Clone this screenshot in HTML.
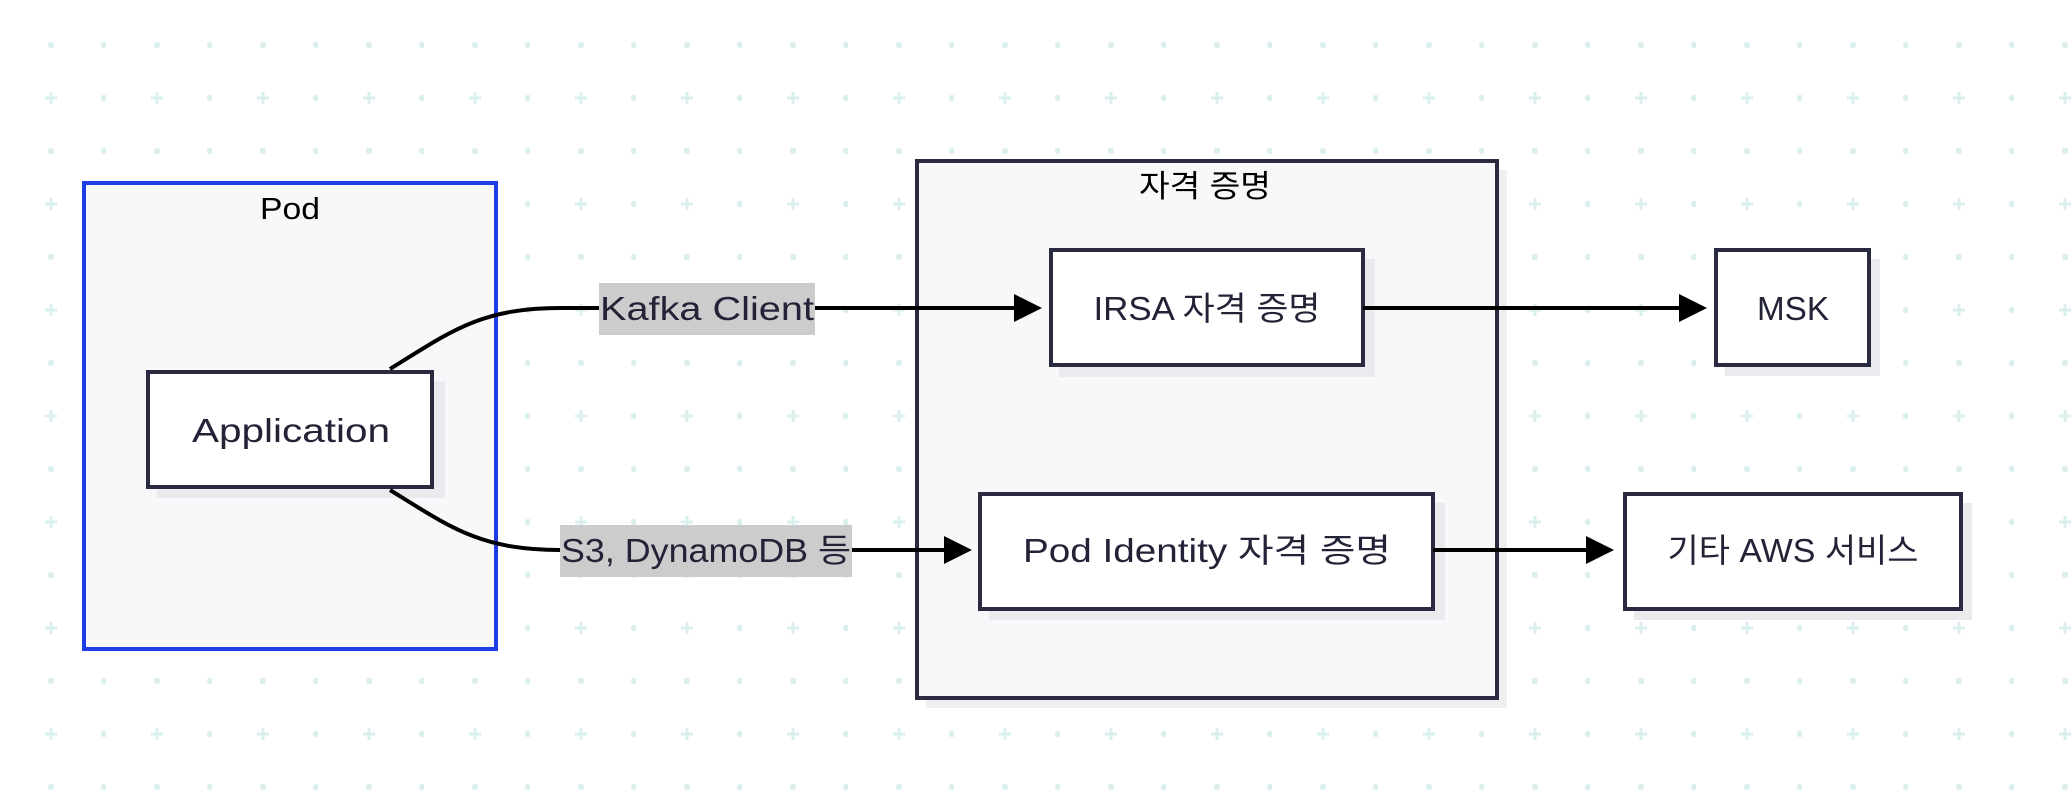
<!DOCTYPE html>
<html><head><meta charset="utf-8"><style>
html,body{margin:0;padding:0;background:#fff;}
svg{display:block;}
text{font-family:"Liberation Sans","Noto Sans CJK KR",sans-serif;fill:#232338;}
</style></head><body>
<svg width="2072" height="806" viewBox="0 0 2072 806" xmlns="http://www.w3.org/2000/svg">
<defs>
<pattern id="g" x="0" y="0" width="106" height="106" patternUnits="userSpaceOnUse">
<circle cx="51" cy="45" r="3.2" fill="#dcefef"/>
<circle cx="104" cy="45" r="3.2" fill="#dcefef"/>
<circle cx="104" cy="98" r="3.2" fill="#dcefef"/>
<rect x="45" y="96.5" width="12" height="3" fill="#dcefef"/>
<rect x="49.5" y="92" width="3" height="12" fill="#dcefef"/>
</pattern>
</defs>
<rect width="2072" height="806" fill="url(#g)"/>

<!-- Pod -->
<rect x="84" y="183" width="412" height="466" fill="#f8f8fa" stroke="#1e3de6" stroke-width="4"/>
<text x="290" y="219" font-size="31" text-anchor="middle" textLength="60" lengthAdjust="spacingAndGlyphs" style="fill:#000">Pod</text>

<!-- Credentials -->
<rect x="926" y="170" width="581" height="538" fill="#efeff2"/>
<rect x="917" y="161" width="580" height="537" fill="#f8f8fa" stroke="#2a2a40" stroke-width="4"/>
<text x="1205" y="197" font-size="31" text-anchor="middle" textLength="132" lengthAdjust="spacingAndGlyphs" style="fill:#000">자격 증명</text>

<!-- Application -->
<rect x="157" y="381" width="288" height="117" fill="#ebebef"/>
<rect x="148" y="372" width="284" height="115" fill="#fff" stroke="#2a2a40" stroke-width="4"/>
<text x="291" y="442" font-size="33" text-anchor="middle" textLength="198" lengthAdjust="spacingAndGlyphs">Application</text>

<!-- IRSA -->
<rect x="1059" y="259" width="316" height="118" fill="#ebebef"/>
<rect x="1051" y="250" width="312" height="115" fill="#fff" stroke="#2a2a40" stroke-width="4"/>
<text x="1207" y="320" font-size="33" text-anchor="middle" textLength="227" lengthAdjust="spacingAndGlyphs">IRSA 자격 증명</text>

<!-- Pod Identity -->
<rect x="989" y="503" width="456" height="117" fill="#ebebef"/>
<rect x="980" y="494" width="453" height="115" fill="#fff" stroke="#2a2a40" stroke-width="4"/>
<text x="1207" y="562" font-size="33" text-anchor="middle" textLength="368" lengthAdjust="spacingAndGlyphs">Pod Identity 자격 증명</text>

<!-- MSK -->
<rect x="1725" y="259" width="155" height="117" fill="#ebebef"/>
<rect x="1716" y="250" width="153" height="115" fill="#fff" stroke="#2a2a40" stroke-width="4"/>
<text x="1793" y="320" font-size="33" text-anchor="middle" textLength="72" lengthAdjust="spacingAndGlyphs">MSK</text>

<!-- Other AWS -->
<rect x="1634" y="503" width="338" height="117" fill="#ebebef"/>
<rect x="1625" y="494" width="336" height="115" fill="#fff" stroke="#2a2a40" stroke-width="4"/>
<text x="1793" y="562" font-size="33" text-anchor="middle" textLength="251" lengthAdjust="spacingAndGlyphs">기타 AWS 서비스</text>

<!-- connectors -->
<path d="M390,369 C450,332 480,308 560,308 L1016,308" fill="none" stroke="#000" stroke-width="4"/>
<polygon points="1014,294 1042,308 1014,322" fill="#000"/>
<path d="M390,490 C450,527 480,550 560,550 L946,550" fill="none" stroke="#000" stroke-width="4"/>
<polygon points="944,536 972,550 944,564" fill="#000"/>
<path d="M1363,308 L1681,308" fill="none" stroke="#000" stroke-width="4"/>
<polygon points="1679,294 1707,308 1679,322" fill="#000"/>
<path d="M1433,550 L1588,550" fill="none" stroke="#000" stroke-width="4"/>
<polygon points="1586,536 1614,550 1586,564" fill="#000"/>

<!-- edge labels -->
<rect x="599" y="283" width="216" height="52" fill="#cccccc"/>
<text x="707" y="320" font-size="33" text-anchor="middle" textLength="214" lengthAdjust="spacingAndGlyphs">Kafka Client</text>
<rect x="560" y="525" width="292" height="52" fill="#cccccc"/>
<text x="706" y="562" font-size="33" text-anchor="middle" textLength="290" lengthAdjust="spacingAndGlyphs">S3, DynamoDB 등</text>
</svg>
</body></html>
